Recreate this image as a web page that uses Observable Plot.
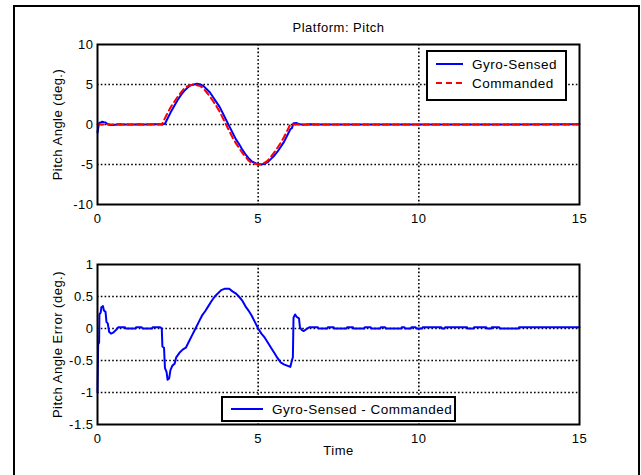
<!DOCTYPE html>
<html>
<head>
<meta charset="utf-8">
<script src="https://cdn.jsdelivr.net/npm/d3@7"></script>
<script src="https://cdn.jsdelivr.net/npm/@observablehq/plot@0.6"></script>
<style>
  html, body { margin: 0; padding: 0; background: #fff; }
  #chart { position: relative; width: 641px; height: 475px; overflow: hidden; }
  #chart > svg { position: absolute; left: 0; }
  #chart svg text { letter-spacing: 0.5px; }
</style>
</head>
<body>
<div id="chart"></div>
<script>
// Time axis
const timeTicks = [0, 5, 10, 15];

// Upper panel: pitch angle, gyro-sensed vs commanded (deg.)
const pitchTicks = [-10, -5, 0, 5, 10];
const pitchTime = [0, 0.03, 0.06, 0.1, 0.15, 0.2, 0.25, 0.3, 0.4, 0.5, 0.65, 0.85, 1.2, 1.25, 1.45, 1.8, 1.95,
  2.0, 2.1, 2.2, 2.3, 2.4, 2.5, 2.6, 2.7, 2.8, 2.9, 3.0, 3.1, 3.2, 3.3, 3.4, 3.5, 3.6, 3.7, 3.8, 3.9,
  4.0, 4.1, 4.2, 4.3, 4.4, 4.5, 4.6, 4.7, 4.8, 4.9, 5.0, 5.1, 5.2, 5.3, 5.4, 5.5, 5.6, 5.7, 5.8, 5.9,
  6.0, 6.05, 6.1, 6.2, 6.3, 6.4, 6.6, 7.0, 15];
const commanded = [0, 0, 0, 0, 0, 0, 0, 0, 0, 0, 0, 0, 0, 0, 0, 0, 0,
  0, 0.8, 1.6, 2.3, 2.9, 3.5, 4.0, 4.5, 4.8, 4.9, 5.0, 4.9, 4.8, 4.5, 4.0, 3.5, 2.9, 2.3, 1.6, 0.8,
  0, -0.8, -1.6, -2.3, -2.9, -3.5, -4.0, -4.5, -4.8, -4.9, -5.0, -4.9, -4.8, -4.5, -4.0, -3.5, -2.9, -2.3, -1.6, -0.8,
  0, 0, 0, 0, 0, 0, 0, 0, 0];
const gyroSensed = [-1.0, -0.22, 0.22, 0.26, 0.35, 0.28, 0.25, 0.08, -0.07, -0.05, 0.02, 0, 0, 0.02, 0, 0.02, 0.02,
  0, 0.1, 0.9, 1.7, 2.4, 3.1, 3.7, 4.2, 4.6, 4.9, 5.0, 5.1, 5.0, 4.8, 4.4, 4.0, 3.4, 2.8, 2.2, 1.4,
  0.6, -0.2, -1.0, -1.8, -2.4, -3.1, -3.7, -4.2, -4.6, -4.8, -5.0, -5.0, -4.9, -4.7, -4.3, -3.9, -3.4, -2.8, -2.2, -1.4,
  -0.6, -0.45, 0.17, 0.18, 0.02, -0.04, 0.02, 0, 0.02];

// Lower panel: pitch angle error, gyro-sensed minus commanded (deg.)
const errorTicks = [-1.5, -1, -0.5, 0, 0.5, 1];
const errTime = [0, 0.02, 0.05, 0.06, 0.1, 0.12, 0.17, 0.2, 0.25, 0.28, 0.32, 0.36, 0.42, 0.5, 0.58, 0.65, 0.85, 0.88,
  1.18, 1.2, 1.37, 1.4, 1.7, 1.72, 1.95, 2.0, 2.02, 2.07, 2.1, 2.15, 2.18, 2.23, 2.27, 2.33, 2.4, 2.45, 2.55, 2.65,
  2.75, 2.85, 2.95, 3.05, 3.15, 3.25, 3.35, 3.45, 3.55, 3.65, 3.75, 3.85, 3.95, 4.1, 4.2, 4.3, 4.4, 4.5, 4.6, 4.7,
  4.8, 4.9, 5.0, 5.1, 5.2, 5.3, 5.4, 5.5, 5.6, 5.7, 5.8, 5.9, 6.0, 6.05, 6.08, 6.1, 6.15, 6.2, 6.27, 6.3, 6.35,
  6.42, 6.5, 6.6, 6.85, 6.88, 7.15, 7.17, 7.35, 7.37, 7.75, 7.77, 7.95, 7.97, 8.3, 8.32, 8.5, 8.52, 8.8, 8.82,
  8.95, 8.97, 9.45, 9.47, 9.55, 9.57, 9.75, 9.77, 9.9, 9.92, 10.1, 10.12, 10.7, 10.72, 10.8, 10.82, 11.5, 11.52,
  11.7, 11.72, 12.1, 12.12, 12.25, 12.27, 12.5, 12.52, 13.1, 13.12, 15];
const errValue = [-1.0, -0.25, -0.22, 0.22, 0.25, 0.33, 0.35, 0.28, 0.26, 0.1, 0.08, -0.05, -0.08, -0.06, -0.02, 0.02, 0.02, 0,
  0, 0.02, 0.02, 0, 0, 0.02, 0.02, 0, -0.28, -0.3, -0.62, -0.68, -0.8, -0.78, -0.65, -0.58, -0.55, -0.45, -0.38, -0.33,
  -0.3, -0.2, -0.1, 0, 0.1, 0.2, 0.27, 0.35, 0.43, 0.5, 0.55, 0.6, 0.62, 0.62, 0.58, 0.55, 0.5, 0.44, 0.35, 0.28,
  0.2, 0.1, 0, -0.08, -0.14, -0.22, -0.3, -0.38, -0.46, -0.53, -0.56, -0.58, -0.6, -0.5, -0.45, 0.17, 0.22, 0.18, 0.16, 0.02, -0.02,
  -0.04, -0.01, 0.02, 0.02, 0, 0, 0.02, 0.02, 0, 0, 0.02, 0.02, 0, 0, 0.02, 0.02, 0, 0, 0.02,
  0.02, 0, 0, 0.02, 0.02, 0, 0, 0.02, 0.02, 0, 0, 0.02, 0.02, 0, 0, 0.02, 0.02, 0,
  0, 0.02, 0.02, 0, 0, 0.02, 0.02, 0, 0, 0.02, 0.02];

const titleText = "Platform: Pitch";
const pitchLabel = "Pitch Angle (deg.)";
const errorLabel = "Pitch Angle Error (deg.)";
const timeLabel = "Time";
const seriesNames = ["Gyro-Sensed", "Commanded"];
const errorName = "Gyro-Sensed - Commanded";

const BLUE = "#0000ff", RED = "#ff0000";
const FONT = "'Liberation Sans', Arial, Helvetica, sans-serif";
const fmt = d => String(d);
const dotted = {stroke: "black", strokeOpacity: 1, strokeWidth: 1.6, strokeDasharray: "1.6,2.2"};
const label = {fill: "black", textAnchor: "middle", lineAnchor: "middle"};

const pitchRows = pitchTime.map((t, i) => ({t, cmd: commanded[i], gyro: gyroSensed[i]}));
const errRows = errTime.map((t, i) => ({t, e: errValue[i]}));

const chart = document.getElementById("chart");

// Upper panel
const pitchPlot = Plot.plot({
  width: 641, height: 240,
  marginLeft: 97, marginRight: 62, marginTop: 44, marginBottom: 36,
  style: {fontFamily: FONT, fontSize: "13px", color: "black", background: "transparent", overflow: "visible"},
  x: {domain: [0, 15], ticks: timeTicks, tickFormat: fmt, tickSize: 0, tickPadding: 9, label: null},
  y: {domain: [-10, 10], ticks: pitchTicks, tickFormat: fmt, tickSize: 0, tickPadding: 4, label: null},
  marks: [
    Plot.gridX(timeTicks.slice(1, -1), dotted),
    Plot.gridY(pitchTicks.slice(1, -1), dotted),
    Plot.line(pitchRows, {x: "t", y: "gyro", stroke: BLUE, strokeWidth: 2}),
    Plot.line(pitchRows, {x: "t", y: "cmd", stroke: RED, strokeWidth: 2, strokeDasharray: "6,4"}),
    Plot.frame({stroke: "black", strokeWidth: 2}),
    Plot.text([titleText], {...label, frameAnchor: "top", dy: -17}),
    Plot.text([pitchLabel], {...label, frameAnchor: "left", rotate: -90, dx: -40})
  ]
});
pitchPlot.style.top = "0px";
chart.appendChild(pitchPlot);

// Lower panel
const errorPlot = Plot.plot({
  width: 641, height: 235,
  marginLeft: 97, marginRight: 62, marginTop: 24, marginBottom: 51,
  style: {fontFamily: FONT, fontSize: "13px", color: "black", background: "transparent", overflow: "visible"},
  x: {domain: [0, 15], ticks: timeTicks, tickFormat: fmt, tickSize: 0, tickPadding: 9, label: null},
  y: {domain: [-1.5, 1], ticks: errorTicks, tickFormat: fmt, tickSize: 0, tickPadding: 4, label: null},
  marks: [
    Plot.gridX(timeTicks.slice(1, -1), dotted),
    Plot.gridY(errorTicks.slice(1, -1), dotted),
    Plot.line(errRows, {x: "t", y: "e", stroke: BLUE, strokeWidth: 2}),
    Plot.frame({stroke: "black", strokeWidth: 2}),
    Plot.text([errorLabel], {...label, frameAnchor: "left", rotate: -90, dx: -40}),
    Plot.text([timeLabel], {...label, frameAnchor: "bottom", dy: 26})
  ]
});
errorPlot.style.top = "240px";
chart.appendChild(errorPlot);

// Figure border and legends
const overlay = d3.select(chart).append("svg")
  .attr("width", 641).attr("height", 475)
  .style("top", "0px")
  .style("font-family", FONT).style("font-size", "13.5px");

overlay.append("rect")
  .attr("x", 14).attr("y", 6).attr("width", 625).attr("height", 480)
  .attr("fill", "none").attr("stroke", "black").attr("stroke-width", 2);

function legend(g, x, y, w, h, entries) {
  g.append("rect").attr("x", x).attr("y", y).attr("width", w).attr("height", h)
    .attr("fill", "white").attr("stroke", "black").attr("stroke-width", 2);
  entries.forEach(e => {
    const cy = y + e.dy;
    g.append("line").attr("x1", x + 9).attr("x2", x + 9 + e.len).attr("y1", cy).attr("y2", cy)
      .attr("stroke", e.color).attr("stroke-width", 2)
      .attr("stroke-dasharray", e.dash || null);
    g.append("text").attr("x", x + e.tx).attr("y", cy).attr("dy", "0.35em")
      .attr("fill", "black").text(e.name);
  });
}

legend(overlay, 427, 51, 139, 49, [
  {name: seriesNames[0], color: BLUE, dy: 13, len: 27, tx: 45},
  {name: seriesNames[1], color: RED, dash: "6,4", dy: 32, len: 27, tx: 45}
]);
legend(overlay, 222, 397, 233, 24, [
  {name: errorName, color: BLUE, dy: 12, len: 32, tx: 50}
]);
</script>
</body>
</html>
